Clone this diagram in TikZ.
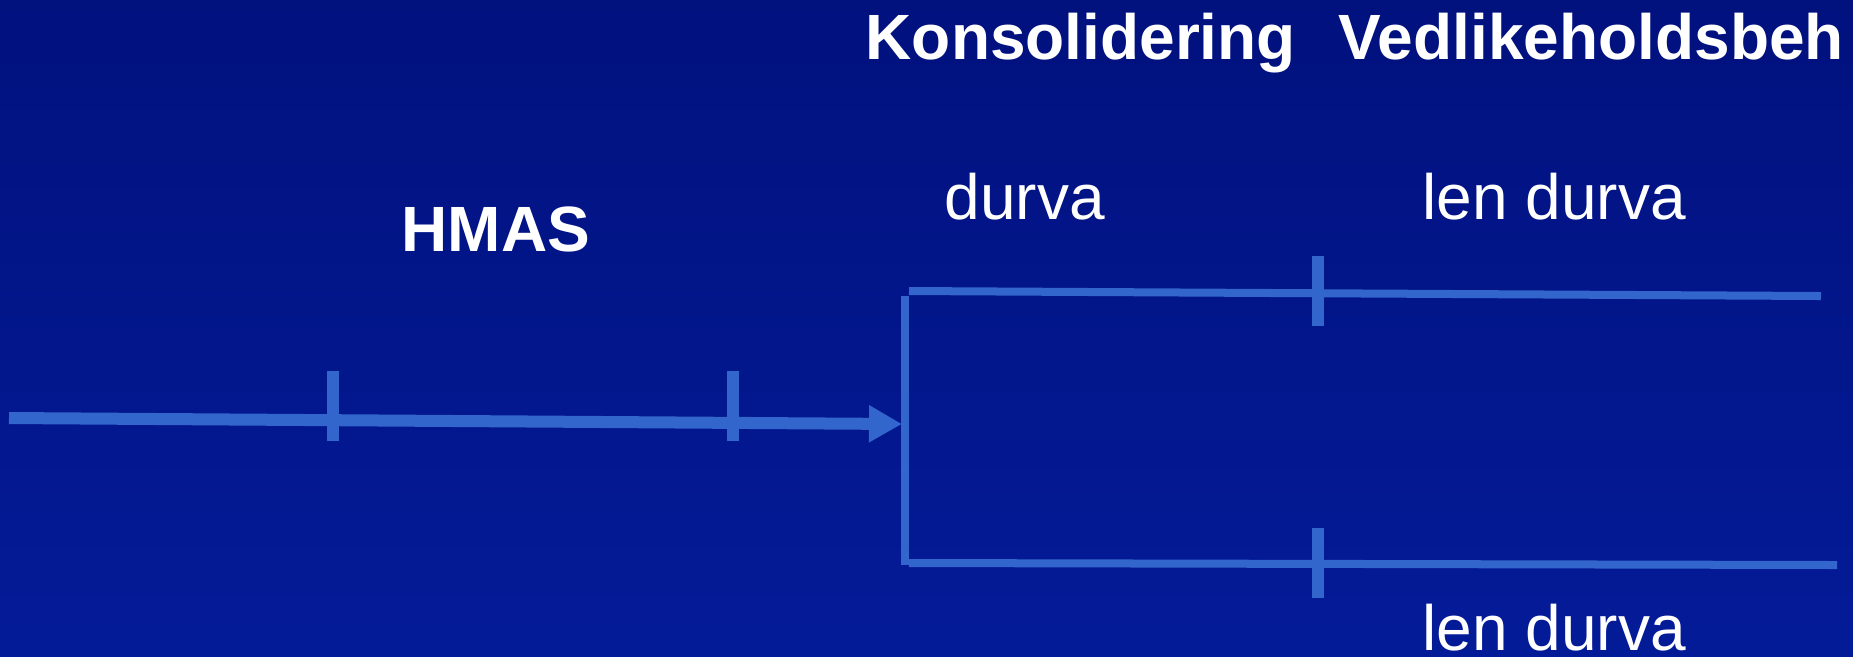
\documentclass[tikz,border=0pt]{standalone}
\usepackage{fontspec}
\setmainfont{Liberation Sans}
\usetikzlibrary{arrows.meta}
\definecolor{bgtop}{RGB}{1,17,126}
\definecolor{bgbot}{RGB}{4,27,152}
\definecolor{linje}{RGB}{51,102,204}

\begin{document}
\begin{tikzpicture}[x=0.01cm, y=-0.01cm,
    tick/.style={rectangle, fill=linje, inner sep=0pt, minimum width=0.12cm, minimum height=0.7cm},
    head/.style={font=\bfseries\fontsize{18.2}{20}\selectfont, text=white, inner sep=0pt, anchor=base west},
    lbl/.style={font=\fontsize{18.2}{20}\selectfont, text=white, inner sep=0pt, anchor=base west},
    mainline/.style={draw=linje, line width=0.12cm},
    branch/.style={draw=linje, line width=0.08cm}]
        \useasboundingbox (0,0) rectangle (1853,656);
        \shade[top color=bgtop, bottom color=bgbot] (0,0) rectangle (1853,656);

        % headings
        \node[head] (kons) at (865,59) {Konsolidering};
        \node[head] (vedl) at (1338,59) {Vedlikeholdsbeh};
        \node[head] (hmas) at (401,251) {HMAS};
        \node[lbl] (durva) at (944,219) {durva};
        \node[lbl] (lenop) at (1422,219) {len durva};
        \node[lbl] (lenned) at (1422,650) {len durva};

        % line ends
        \coordinate (start) at (9,418);
        \coordinate (tip) at (902,424);
        \coordinate (bartop) at (905,296);
        \coordinate (barbot) at (905,565);
        \coordinate (up0) at (909,291);
        \coordinate (up1) at (1821,296);
        \coordinate (lo0) at (909,563);
        \coordinate (lo1) at (1837,565);

        \draw[mainline, -{Triangle[length=0.33cm, width=0.35cm]}] (start) -- (tip);
        \draw[branch] (bartop) -- (barbot);
        \draw[branch] (up0) -- (up1);
        \draw[branch] (lo0) -- (lo1);

        % ticks
        \node[tick] (t1) at (333,406) {};
        \node[tick] (t2) at (733,406) {};
        \node[tick] (t3) at (1318,291) {};
        \node[tick] (t4) at (1318,563) {};
\end{tikzpicture}
\end{document}
